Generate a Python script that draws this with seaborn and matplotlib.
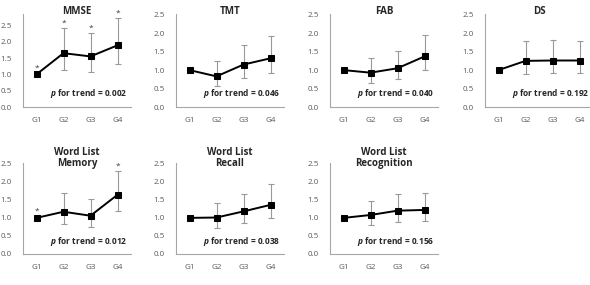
import numpy as np
import pandas as pd
import matplotlib
matplotlib.use("Agg")
import matplotlib.pyplot as plt
import seaborn as sns

groups = ['G1', 'G2', 'G3', 'G4']
tests = ['MMSE', 'TMT', 'FAB', 'DS', 'Word List\nMemory', 'Word List\nRecall', 'Word List\nRecognition']

# odds ratio (mean) with lower / upper bound, G1 is the reference
mmse = [1.00, 1.65, 1.55, 1.89]
mmse_lo = [np.nan, 1.12, 1.08, 1.32]
mmse_hi = [np.nan, 2.43, 2.28, 2.73]

tmt = [1.00, 0.83, 1.15, 1.32]
tmt_lo = [np.nan, 0.57, 0.78, 0.93]
tmt_hi = [np.nan, 1.25, 1.67, 1.92]

fab = [1.00, 0.93, 1.05, 1.37]
fab_lo = [np.nan, 0.66, 0.76, 1.00]
fab_hi = [np.nan, 1.34, 1.51, 1.94]

ds = [1.00, 1.25, 1.26, 1.26]
ds_lo = [np.nan, 0.90, 0.91, 0.91]
ds_hi = [np.nan, 1.80, 1.82, 1.80]

wl_mem = [1.00, 1.17, 1.06, 1.64]
wl_mem_lo = [np.nan, 0.82, 0.76, 1.18]
wl_mem_hi = [np.nan, 1.70, 1.53, 2.31]

wl_rec = [1.00, 1.01, 1.18, 1.36]
wl_rec_lo = [np.nan, 0.72, 0.85, 0.99]
wl_rec_hi = [np.nan, 1.42, 1.67, 1.94]

wl_rcg = [1.00, 1.08, 1.20, 1.22]
wl_rcg_lo = [np.nan, 0.80, 0.89, 0.92]
wl_rcg_hi = [np.nan, 1.47, 1.67, 1.70]

p_trend = ['0.002', '0.046', '0.040', '0.192', '0.012', '0.038', '0.156']

# significance asterisks per group
stars = [
    [True, True, True, True],
    [False] * 4,
    [False] * 4,
    [False] * 4,
    [True, False, False, True],
    [False] * 4,
    [False] * 4,
]

means = [mmse, tmt, fab, ds, wl_mem, wl_rec, wl_rcg]
lows = [mmse_lo, tmt_lo, fab_lo, ds_lo, wl_mem_lo, wl_rec_lo, wl_rcg_lo]
highs = [mmse_hi, tmt_hi, fab_hi, ds_hi, wl_mem_hi, wl_rec_hi, wl_rcg_hi]

rows = []
for t, m, lo, hi in zip(tests, means, lows, highs):
    for g, a, b, c in zip(groups, m, lo, hi):
        rows.append({'test': t, 'group': g, 'value': a, 'low': b, 'high': c})
df = pd.DataFrame(rows)

sns.set_style("white")
plt.rcParams['font.family'] = ['Open Sans', 'DejaVu Sans']
plt.rcParams['mathtext.fontset'] = 'custom'
plt.rcParams['mathtext.it'] = 'Open Sans:italic:bold'

fig = plt.figure(figsize=(5.9, 2.85), dpi=100)

lefts = [23, 176, 330, 485]
W, H = 590, 285
pos = []
for i in range(7):
    r, c = divmod(i, 4)
    if r == 0:
        top, bot = 14, 107
    else:
        top, bot = 163, 254
    pos.append([lefts[c] / W, 1 - bot / H, 108 / W, (bot - top) / H])

gray = '#595959'
for i, t in enumerate(tests):
    ax = fig.add_axes(pos[i])
    sub = df[df['test'] == t]
    x = np.arange(len(groups))
    yerr = np.array([sub['value'] - sub['low'], sub['high'] - sub['value']])
    ax.errorbar(x, sub['value'], yerr=yerr, fmt='none', ecolor='#999999',
                elinewidth=0.8, capsize=2.2, capthick=0.8, zorder=1)
    sns.lineplot(data=sub, x='group', y='value', marker='s', color='black',
                 markersize=5, markeredgecolor='black', linewidth=1.4, ax=ax, zorder=3)
    for j, s in enumerate(stars[i]):
        if s:
            top_v = sub['high'].iloc[j]
            if np.isnan(top_v):
                top_v = sub['value'].iloc[j] + 0.05
            ax.text(j, top_v + 0.03, '*', ha='center', va='bottom', fontsize=6, color='#404040')
    ax.set_xlim(-0.5, 3.5)
    ax.set_ylim(0, 2.85 if t == 'MMSE' else 2.52)
    ax.set_yticks([0, 0.5, 1.0, 1.5, 2.0, 2.5])
    ax.set_yticklabels(['0.0', '0.5', '1.0', '1.5', '2.0', '2.5'])
    ax.tick_params(axis='both', length=0, labelsize=5.8, labelcolor=gray)
    ax.tick_params(axis='x', pad=7)
    ax.tick_params(axis='y', pad=8)
    ax.set_xlabel('')
    ax.set_ylabel('')
    for side in ['top', 'right']:
        ax.spines[side].set_visible(False)
    for side in ['left', 'bottom']:
        ax.spines[side].set_color('#a6a6a6')
        ax.spines[side].set_linewidth(0.8)
    ax.set_title(t, fontsize=7, fontweight='bold', color='#262626',
                 pad=0 if i < 4 else -2, linespacing=1.0)
    ax.text(0.25, 0.14, r'$\it{p}$ for trend = ' + p_trend[i], transform=ax.transAxes,
            fontsize=6, fontweight='bold', color='#262626', ha='left', va='center')

fig.savefig('out.png', dpi=100)
